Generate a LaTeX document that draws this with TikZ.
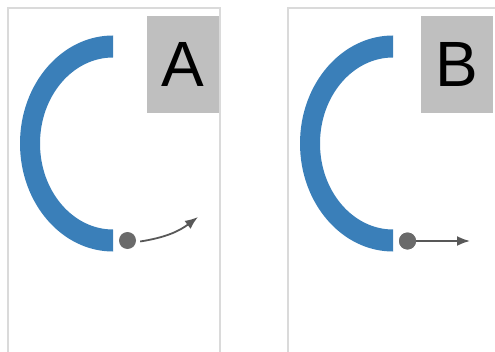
\documentclass[tikz,border=0pt]{standalone}
\usepackage{fontspec}
\usepackage{tikz}
\usetikzlibrary{calc}
\usetikzlibrary{arrows.meta}
\newfontfamily\labelfont{Liberation Sans}
\definecolor{arcblue}{HTML}{3A7FB9}
\definecolor{tagbg}{HTML}{BFBFBF}
\definecolor{framegray}{HTML}{DADADA}
\definecolor{dotgray}{HTML}{6A6A6A}
\definecolor{arrowgray}{HTML}{585858}

\begin{document}
\begin{tikzpicture}[x=1pt,y=1pt,
panel/.style = {draw=framegray, line width=1.6pt},
ring/.style = {fill=arcblue, draw=none},
tag/.style = {fill=tagbg, draw=none, minimum width=72pt, minimum height=97pt,
  inner sep=0pt, font=\labelfont\fontsize{64}{64}\selectfont},
ball/.style = {circle, fill=dotgray, draw=none, minimum size=17pt, inner sep=0pt},
move/.style = {draw=arrowgray, line width=1.8pt, -{Latex[length=13pt,width=10pt]}}
]
\useasboundingbox (0,0) rectangle (495,351);
\clip (0,0) rectangle (495,351);

%% panel A
\coordinate (a) at (0,0);
\draw [panel] ($ (a) + (8,-10) $) -- ($ (a) + (8,343) $) -- ($ (a) + (220,343) $) -- ($ (a) + (220,-10) $);
\coordinate (m) at ($ (a) + (113,207.5) $);
\fill [ring] ($ (m) + (0,108) $)
  arc [start angle=90, end angle=270, x radius=93, y radius=108]
  -- ($ (m) + (0,-86) $)
  arc [start angle=270, end angle=90, x radius=73, y radius=86]
  -- cycle;
\node [tag] (tagA) at ($ (a) + (183,286.5) $) {A};
\node [ball] (ballA) at ($ (a) + (127.5,110.5) $) {};
\coordinate (endA) at ($ (a) + (198,134) $);
\draw [move] (ballA.east) ++(4,-1) to [bend right=14] (endA);

%% panel B
\coordinate (b) at (280,0);
\draw [panel] ($ (b) + (8,-10) $) -- ($ (b) + (8,343) $) -- ($ (b) + (230,343) $);
\coordinate (m) at ($ (b) + (113,207.5) $);
\fill [ring] ($ (m) + (0,108) $)
  arc [start angle=90, end angle=270, x radius=93, y radius=108]
  -- ($ (m) + (0,-86) $)
  arc [start angle=270, end angle=90, x radius=73, y radius=86]
  -- cycle;
\node [tag] (tagB) at ($ (b) + (177,286.5) $) {B};
\node [ball] (ballB) at ($ (b) + (127.5,110) $) {};
\coordinate (endB) at ($ (b) + (190,110) $);
\draw [move] (ballB.center) -- (endB);
\fill [dotgray] (ballB) circle (8.5pt);

\end{tikzpicture}
\end{document}
